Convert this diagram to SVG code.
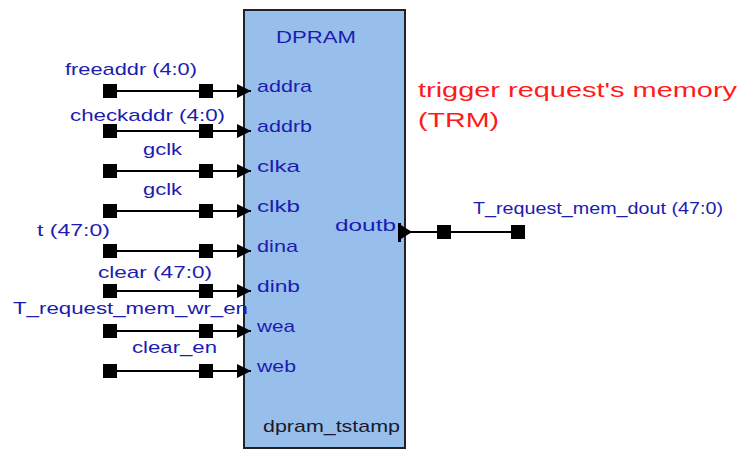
<svg xmlns="http://www.w3.org/2000/svg" width="752" height="451" viewBox="0 0 752 451">
<style>
.sig{font-family:"Liberation Sans",Arial,sans-serif;font-size:17px;fill:#1c1cb0;}
.red{font-family:"Liberation Sans",Arial,sans-serif;font-size:20px;fill:#ff1a1a;}
.dark{font-family:"Liberation Sans",Arial,sans-serif;font-size:17px;fill:#1a1a2a;}
.wire{stroke:#000;stroke-width:2;fill:none;}
</style>
<defs>
<marker id="arr" viewBox="0 0 14 14" refX="14" refY="7" markerWidth="14" markerHeight="14" markerUnits="userSpaceOnUse" orient="auto">
<path d="M0,0 L14,7 L0,14 z" fill="#000"/>
</marker>
<rect id="sq" x="-7" y="-7" width="14" height="14" fill="#000"/>
</defs>
<rect width="752" height="451" fill="#fff"/>

<g id="dpram">
<rect x="244" y="10" width="161" height="438" fill="#98bfec" stroke="#222" stroke-width="2"/>
<text class="sig" x="276" y="43" textLength="80" lengthAdjust="spacingAndGlyphs">DPRAM</text>
<text class="sig" x="257" y="92" textLength="55" lengthAdjust="spacingAndGlyphs">addra</text>
<text class="sig" x="257" y="132" textLength="55" lengthAdjust="spacingAndGlyphs">addrb</text>
<text class="sig" x="257" y="172" textLength="43" lengthAdjust="spacingAndGlyphs">clka</text>
<text class="sig" x="257" y="212" textLength="43" lengthAdjust="spacingAndGlyphs">clkb</text>
<text class="sig" x="257" y="252" textLength="41" lengthAdjust="spacingAndGlyphs">dina</text>
<text class="sig" x="257" y="292" textLength="43" lengthAdjust="spacingAndGlyphs">dinb</text>
<text class="sig" x="257" y="332" textLength="38" lengthAdjust="spacingAndGlyphs">wea</text>
<text class="sig" x="257" y="372" textLength="39" lengthAdjust="spacingAndGlyphs">web</text>
<text class="sig" x="335" y="231" textLength="61" lengthAdjust="spacingAndGlyphs">doutb</text>
<text class="dark" x="263" y="432" textLength="137" lengthAdjust="spacingAndGlyphs">dpram_tstamp</text>
</g>

<g id="connectors">
<line class="wire" x1="110" y1="91" x2="251" y2="91" marker-end="url(#arr)"/>
<line class="wire" x1="110" y1="131" x2="251" y2="131" marker-end="url(#arr)"/>
<line class="wire" x1="110" y1="171" x2="251" y2="171" marker-end="url(#arr)"/>
<line class="wire" x1="110" y1="211" x2="251" y2="211" marker-end="url(#arr)"/>
<line class="wire" x1="110" y1="251" x2="251" y2="251" marker-end="url(#arr)"/>
<line class="wire" x1="110" y1="291" x2="251" y2="291" marker-end="url(#arr)"/>
<line class="wire" x1="110" y1="331" x2="251" y2="331" marker-end="url(#arr)"/>
<line class="wire" x1="110" y1="371" x2="251" y2="371" marker-end="url(#arr)"/>
<line class="wire" x1="410" y1="232" x2="518" y2="232"/>
<rect x="398" y="223" width="3" height="19" fill="#000"/>
<path d="M401,225 L412,232 L401,239 z" fill="#000"/>
</g>

<g id="freeaddr">
<use href="#sq" x="110" y="91"/><use href="#sq" x="206" y="91"/>
<text class="sig" x="65" y="75" textLength="132" lengthAdjust="spacingAndGlyphs">freeaddr (4:0)</text>
</g>
<g id="checkaddr">
<use href="#sq" x="110" y="131"/><use href="#sq" x="206" y="131"/>
<text class="sig" x="70" y="121" textLength="155" lengthAdjust="spacingAndGlyphs">checkaddr (4:0)</text>
</g>
<g id="gclk_a">
<use href="#sq" x="110" y="171"/><use href="#sq" x="206" y="171"/>
<text class="sig" x="143" y="155" textLength="39" lengthAdjust="spacingAndGlyphs">gclk</text>
</g>
<g id="gclk_b">
<use href="#sq" x="110" y="211"/><use href="#sq" x="206" y="211"/>
<text class="sig" x="143" y="195" textLength="39" lengthAdjust="spacingAndGlyphs">gclk</text>
</g>
<g id="t">
<use href="#sq" x="110" y="251"/><use href="#sq" x="206" y="251"/>
<text class="sig" x="37" y="236" textLength="73" lengthAdjust="spacingAndGlyphs">t (47:0)</text>
</g>
<g id="clear">
<use href="#sq" x="110" y="291"/><use href="#sq" x="206" y="291"/>
<text class="sig" x="98" y="278" textLength="114" lengthAdjust="spacingAndGlyphs">clear (47:0)</text>
</g>
<g id="wr_en">
<use href="#sq" x="110" y="331"/><use href="#sq" x="206" y="331"/>
<text class="sig" x="13" y="314" textLength="235" lengthAdjust="spacingAndGlyphs">T_request_mem_wr_en</text>
</g>
<g id="clear_en">
<use href="#sq" x="110" y="371"/><use href="#sq" x="206" y="371"/>
<text class="sig" x="132" y="353" textLength="85" lengthAdjust="spacingAndGlyphs">clear_en</text>
</g>
<g id="dout">
<use href="#sq" x="444" y="232"/><use href="#sq" x="518" y="232"/>
<text class="sig" x="473" y="214" textLength="250" lengthAdjust="spacingAndGlyphs">T_request_mem_dout (47:0)</text>
</g>
<g id="trm_note">
<text class="red" x="418" y="97" textLength="319" lengthAdjust="spacingAndGlyphs">trigger request's memory</text>
<text class="red" x="418" y="127" textLength="81" lengthAdjust="spacingAndGlyphs">(TRM)</text>
</g>
</svg>
